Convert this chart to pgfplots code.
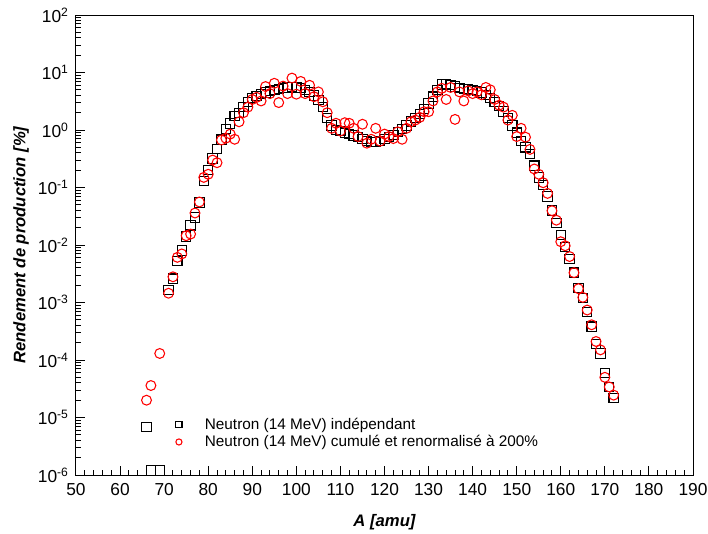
\documentclass[border=0pt]{standalone}
\usepackage{fontspec}
\setmainfont{Liberation Sans}
\usepackage{pgfplots}
\usepackage{pgfplotstable}
\pgfplotsset{compat=1.18}

\pgfplotstableread{
A Y
66 6.9e-6
67 1.2e-6
69 1.2e-6
71 1.65e-3
72 2.6e-3
73 5.3e-3
74 8.0e-3
75 1.4e-2
76 2.2e-2
77 3.0e-2
78 5.5e-2
79 0.13
80 0.2
81 0.32
82 0.47
83 0.68
84 1.05
85 1.3
86 1.75
87 2.0
88 2.5
89 3.1
90 3.6
91 3.9
92 4.2
93 4.5
94 4.8
95 5.0
96 5.2
97 5.4
98 5.5
99 5.6
100 5.5
101 5.4
102 5.0
103 4.6
104 4.0
105 3.3
106 2.5
107 1.6
108 1.2
109 1.0
110 0.95
111 0.9
112 0.85
113 0.8
114 0.75
115 0.7
116 0.65
117 0.62
118 0.62
119 0.65
120 0.7
121 0.75
122 0.82
123 0.92
124 1.05
125 1.2
126 1.4
127 1.6
128 1.9
129 2.3
130 2.9
131 3.8
132 5.0
133 6.2
134 6.3
135 6.0
136 5.7
137 5.4
138 5.2
139 5.1
140 5.0
141 4.8
142 4.5
143 4.1
144 3.6
145 3.1
146 2.6
147 2.1
148 1.6
149 1.2
150 0.9
151 0.65
152 0.5
153 0.38
154 0.24
155 0.15
156 0.11
157 0.07
158 0.04
159 0.024
160 0.015
161 0.0093
162 0.0057
163 0.0033
164 0.0018
165 0.0012
166 6.9e-4
167 3.8e-4
168 1.9e-4
169 1.3e-4
170 6.0e-5
171 3.4e-5
172 2.2e-5
}\indep

\pgfplotstableread{
A Y
66 2.0e-5
67 3.6e-5
69 1.3e-4
71 1.45e-3
72 2.8e-3
73 6.1e-3
74 7.0e-3
75 1.45e-2
76 1.55e-2
77 3.6e-2
78 5.6e-2
79 0.15
80 0.17
81 0.3
82 0.27
83 0.67
84 0.72
85 0.85
86 0.69
87 1.39
88 2.0
89 2.5
90 3.4
91 3.7
92 3.2
93 5.7
94 4.3
95 6.5
96 3.0
97 5.8
98 4.3
99 8.0
100 4.2
101 7.0
102 4.3
103 6.0
104 3.8
105 4.6
106 3.1
107 2.0
108 1.07
109 1.31
110 0.96
111 1.34
112 1.31
113 1.07
114 0.77
115 1.26
116 0.59
117 0.69
118 1.07
119 0.64
120 0.85
121 0.77
122 0.71
123 0.93
124 0.69
125 1.07
126 1.39
127 1.49
128 1.66
129 2.08
130 2.08
131 3.2
132 4.6
133 5.3
134 3.4
135 5.5
136 1.53
137 4.6
138 3.2
139 4.8
140 4.3
141 4.6
142 4.1
143 5.5
144 5.0
145 3.4
146 2.7
147 2.5
148 1.49
149 1.8
150 0.77
151 1.07
152 0.75
153 0.46
154 0.21
155 0.17
156 0.121
157 0.079
158 0.0395
159 0.027
160 0.0114
161 0.0097
162 0.0063
163 0.0033
164 0.00174
165 0.00123
166 7.4e-4
167 4.1e-4
168 2.1e-4
169 1.5e-4
170 5.0e-5
171 3.4e-5
172 2.45e-5
}\cumul

\begin{document}
\begin{tikzpicture}
\useasboundingbox (-57pt,-43.5pt) rectangle (474pt,356.25pt);
\begin{axis}[
  at={(0pt,0pt)}, anchor=south west,
  scale only axis, width=462.75pt, height=345pt,
  ymode=log, log basis y=10,
  xmin=50, xmax=190, ymin=1e-6, ymax=1e2,
  xtick={50,60,...,190},
  minor x tick num=4,
  ytick={1e-6,1e-5,1e-4,1e-3,1e-2,1e-1,1,10,100},
  minor ytick={2e-6,3e-6,4e-6,5e-6,6e-6,7e-6,8e-6,9e-6,
    2e-5,3e-5,4e-5,5e-5,6e-5,7e-5,8e-5,9e-5,
    2e-4,3e-4,4e-4,5e-4,6e-4,7e-4,8e-4,9e-4,
    2e-3,3e-3,4e-3,5e-3,6e-3,7e-3,8e-3,9e-3,
    2e-2,3e-2,4e-2,5e-2,6e-2,7e-2,8e-2,9e-2,
    0.2,0.3,0.4,0.5,0.6,0.7,0.8,0.9,
    2,3,4,5,6,7,8,9,
    20,30,40,50,60,70,80,90},
  xtick pos=bottom, ytick pos=left,
  tick align=inside,
  major tick length=6.5pt, minor tick length=3.5pt,
  axis line style={line width=0.75pt},
  every tick/.style={black, line width=0.75pt},
  /pgf/number format/assume math mode=true,
  log number format basis/.code 2 args={#1\textsuperscript{\pgfmathprintnumber{#2}}},
  tick label style={font=\fontsize{13}{15}\selectfont},
  xticklabel style={yshift=-3pt},
  yticklabel style={xshift=-2pt},
  every axis x label/.style={at={(axis description cs:0.5,-0.102)}, anchor=center},
  every axis y label/.style={at={(axis description cs:-0.0891,0.5)}, rotate=90, anchor=center},
  xlabel={\fontsize{12.5}{15}\selectfont\bfseries\itshape A [amu]},
  ylabel={\fontsize{12.5}{15}\selectfont\bfseries\itshape Rendement de production [\%]},
  legend style={draw=none, fill=none, at={(0.153,0.136)}, anchor=north west,
    font=\fontsize{11.5}{13.5}\selectfont, row sep=-1pt},
  legend cell align=left,
  legend image code/.code={\path (-3pt,0pt) (17.25pt,0pt);
    \draw[#1, mark size=2.3pt] plot coordinates {(0pt,0pt)};},
]
\addplot[only marks, mark=square, mark size=3.5pt, mark options={black, line width=0.8pt}] table[x=A,y=Y] {\indep};
\addlegendentry{Neutron (14 MeV) indépendant}
\addplot[only marks, mark=o, mark size=3.7pt, mark options={red, line width=0.8pt}] table[x=A,y=Y] {\cumul};
\addlegendentry{Neutron (14 MeV) cumulé et renormalisé à 200\%}
\end{axis}
\end{tikzpicture}
\end{document}
